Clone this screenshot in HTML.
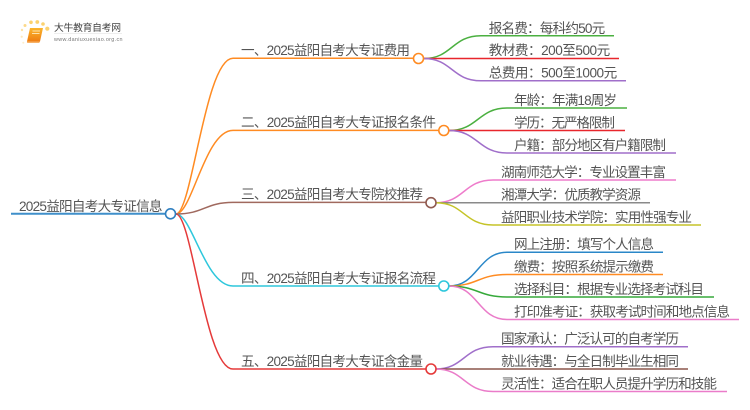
<!DOCTYPE html>
<html lang="zh">
<head>
<meta charset="utf-8">
<title>2025益阳自考大专证信息</title>
<style>
html,body{margin:0;padding:0;background:#fff;width:750px;height:410px;overflow:hidden}
svg{display:block}
text{font-family:"Liberation Sans","Noto Sans CJK SC",sans-serif;font-size:13.6px;fill:#555}
.c{font-family:"Noto Sans CJK TC",sans-serif}
path{fill:none}
circle{fill:#fff;stroke-width:1.6}
</style>
</head>
<body>
<svg width="750" height="410" viewBox="0 0 750 410" xmlns="http://www.w3.org/2000/svg">
<defs>
<filter id="b" x="-5%" y="-30%" width="110%" height="160%"><feGaussianBlur stdDeviation="0.25"/></filter>
<linearGradient id="bk" x1="0" y1="0" x2="0" y2="1"><stop offset="0" stop-color="#fbb52c"/><stop offset="1" stop-color="#ee7d12"/></linearGradient>
</defs>

<!-- logo -->
<circle cx="22" cy="30" r="1.2" style="fill:#fde3a6;stroke:none"/>
<circle cx="25" cy="25.5" r="1.5" style="fill:#fcd98a;stroke:none"/>
<circle cx="31" cy="22.3" r="1.8" style="fill:#fbd270;stroke:none"/>
<circle cx="37.3" cy="22" r="1.9" style="fill:#fbd270;stroke:none"/>
<circle cx="43" cy="24" r="1.8" style="fill:#fbd270;stroke:none"/>
<circle cx="47.3" cy="28.7" r="2.1" style="fill:#fbd270;stroke:none"/>
<circle cx="21.7" cy="36.7" r="1.1" style="fill:#fde9bd;stroke:none"/>
<circle cx="23.3" cy="42.7" r="1" style="fill:#fdeecb;stroke:none"/>
<path d="M30 28 L43 28 L40 41.5 L27 41.5 Z" style="fill:url(#bk)"/>
<path d="M27 41.5 L40 41.5 L39.2 43 L27.5 43 Q26.6 42.5 27 41.5Z" style="fill:#f7b267"/>
<path d="M32.5 31 L40 31 M32 33.5 L39.5 33.5" stroke="#fde2ac" stroke-width="1"/>
<text x="54" y="31" textLength="67" lengthAdjust="spacing" style="font-size:9.8px;fill:#444" filter="url(#b)">大牛教育自考网</text>
<path d="M54 33.5 H122" stroke="#ddd" stroke-width="0.6"/>
<text x="54" y="41" textLength="68.5" lengthAdjust="spacing" style="font-size:5.4px;fill:#777" filter="url(#b)">www.daniuxuexiao.org.cn</text>

<!-- root to branches -->
<path d="M176 214 C192 214 205 58.3 233 58.3 H414" stroke="#ff8b22" stroke-width="1.5"/>
<path d="M176 214 C192 214 205 130.4 233 130.4 H439" stroke="#ff8b22" stroke-width="1.5"/>
<path d="M176 214 C204 214 205 202.4 233 202.4 H426" stroke="#a0695e" stroke-width="1.5"/>
<path d="M176 214 C192 214 205 286 233 286 H439" stroke="#2ec7dc" stroke-width="1.5"/>
<path d="M176 214 C192 214 205 369 233 369 H426" stroke="#e53a3a" stroke-width="1.5"/>
<path d="M11 213.8 H166" stroke="#3f8fca" stroke-width="2"/>

<!-- leaves b1 -->
<path d="M424 58.5 C452 58.5 452 35.7 481 35.7 H614" stroke="#4bb040" stroke-width="1.5"/>
<path d="M424 58.5 H619" stroke="#e8262c" stroke-width="1.5"/>
<path d="M424 58.5 C452 58.5 452 80.8 481 80.8 H626" stroke="#a06fca" stroke-width="1.5"/>
<!-- leaves b2 -->
<path d="M449 130.5 C478 130.5 478 108 507 108 H627" stroke="#4bb040" stroke-width="1.5"/>
<path d="M449 130.5 H625" stroke="#e8262c" stroke-width="1.5"/>
<path d="M449 130.5 C478 130.5 478 153 507 153 H676" stroke="#a06fca" stroke-width="1.5"/>
<!-- leaves b3 -->
<path d="M436 202.7 C464 202.7 464 180 493 180 H676" stroke="#ee7ccb" stroke-width="1.5"/>
<path d="M436 202.7 H650" stroke="#8a8a8a" stroke-width="1.5"/>
<path d="M436 202.7 C464 202.7 464 225 493 225 H701" stroke="#c5c428" stroke-width="1.5"/>
<!-- leaves b4 -->
<path d="M449 286 C478 286 478 252.3 507 252.3 H663" stroke="#2a87c8" stroke-width="1.5"/>
<path d="M449 286 C478 286 478 274.5 507 274.5 H663" stroke="#ff8b22" stroke-width="1.5"/>
<path d="M449 286 C478 286 478 297 507 297 H714" stroke="#36a93a" stroke-width="1.5"/>
<path d="M449 286 C478 286 478 319.5 507 319.5 H739" stroke="#ea7cc9" stroke-width="1.5"/>
<!-- leaves b5 -->
<path d="M436 369 C464 369 464 346.7 493 346.7 H688" stroke="#a06fca" stroke-width="1.5"/>
<path d="M436 369 H688" stroke="#8c564b" stroke-width="1.5"/>
<path d="M436 369 C464 369 464 391.5 493 391.5 H727" stroke="#ea7cc9" stroke-width="1.5"/>

<!-- nodes -->
<circle cx="170.5" cy="213.8" r="5" stroke="#2f7fc0"/>
<circle cx="418.5" cy="58.5" r="5" stroke="#ff8b22"/>
<circle cx="443.8" cy="130.5" r="5" stroke="#ff8b22"/>
<circle cx="431" cy="202.7" r="5" stroke="#8f5a50"/>
<circle cx="443.8" cy="286" r="5" stroke="#2ec7dc"/>
<circle cx="431" cy="369" r="5" stroke="#e53a3a"/>

<g filter="url(#b)">
<text x="19" y="211" textLength="143.5">2025益阳自考大专证信息</text>

<text x="241" y="55" textLength="169">一、2025益阳自考大专证费用</text>
<text x="241" y="127" textLength="195">二、2025益阳自考大专证报名条件</text>
<text x="241" y="199" textLength="182">三、2025益阳自考大专院校推荐</text>
<text x="241" y="283" textLength="195">四、2025益阳自考大专证报名流程</text>
<text x="241" y="366" textLength="182">五、2025益阳自考大专证含金量</text>

<text x="488.7" y="33" textLength="116.5">报名费<tspan class="c">：</tspan>每科约50元</text>
<text x="488.7" y="55" textLength="121.5">教材费<tspan class="c">：</tspan>200至500元</text>
<text x="488.7" y="77.5" textLength="128.5">总费用<tspan class="c">：</tspan>500至1000元</text>

<text x="514" y="105" textLength="103">年龄<tspan class="c">：</tspan>年满18周岁</text>
<text x="514" y="127.5" textLength="101">学历<tspan class="c">：</tspan>无严格限制</text>
<text x="514" y="150" textLength="152">户籍<tspan class="c">：</tspan>部分地区有户籍限制</text>

<text x="501" y="177" textLength="165">湖南师范大学<tspan class="c">：</tspan>专业设置丰富</text>
<text x="501" y="199.5" textLength="140">湘潭大学<tspan class="c">：</tspan>优质教学资源</text>
<text x="501" y="222" textLength="191">益阳职业技术学院<tspan class="c">：</tspan>实用性强专业</text>

<text x="514" y="249" textLength="140">网上注册<tspan class="c">：</tspan>填写个人信息</text>
<text x="514" y="271.5" textLength="140">缴费<tspan class="c">：</tspan>按照系统提示缴费</text>
<text x="514" y="294" textLength="190">选择科目<tspan class="c">：</tspan>根据专业选择考试科目</text>
<text x="514" y="316.5" textLength="216">打印准考证<tspan class="c">：</tspan>获取考试时间和地点信息</text>

<text x="501" y="343.5" textLength="178">国家承认<tspan class="c">：</tspan>广泛认可的自考学历</text>
<text x="501" y="366" textLength="178">就业待遇<tspan class="c">：</tspan>与全日制毕业生相同</text>
<text x="501" y="388.5" textLength="216">灵活性<tspan class="c">：</tspan>适合在职人员提升学历和技能</text>
</g>
</svg>
</body>
</html>
